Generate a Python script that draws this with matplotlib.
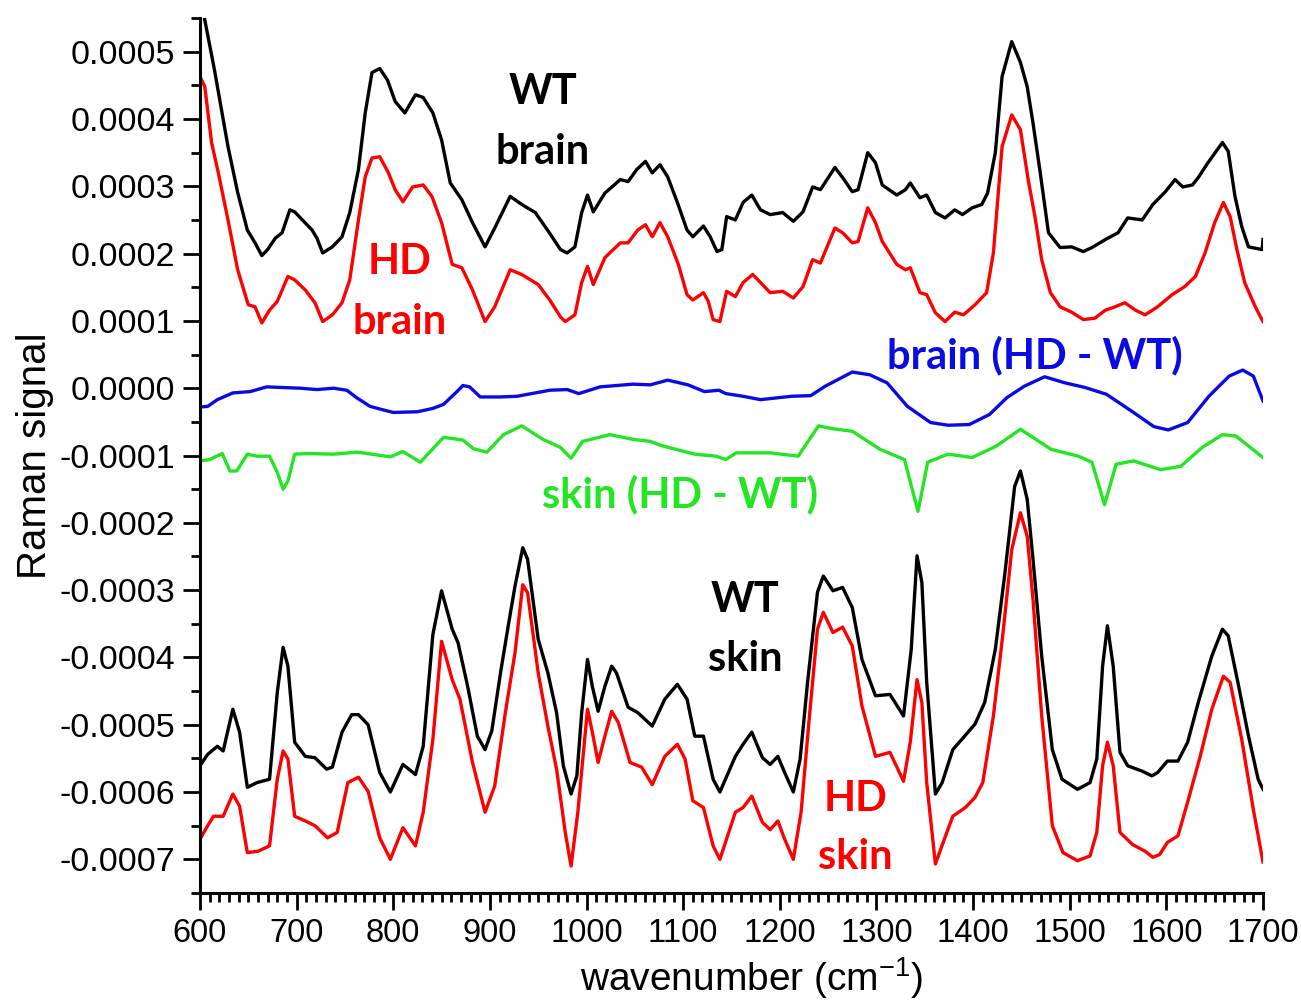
import numpy as np
import matplotlib
matplotlib.use('Agg')
import matplotlib.pyplot as plt
from matplotlib.ticker import MultipleLocator, FormatStrFormatter

# values, in units of 1e-4
SCALE = 1e-4

wt_brain_w = [600, 605, 615, 629, 639, 649, 657, 664, 670, 678,
              685, 693, 698, 706, 716, 721, 727, 737, 747, 755,
              764, 771, 778, 786, 794, 802, 812, 823, 831, 841,
              850, 859, 871, 882, 895, 905, 921, 933, 947, 962,
              973, 980, 988, 995, 1001, 1007, 1019, 1035, 1043, 1052,
              1061, 1068, 1076, 1084, 1094, 1104, 1110, 1121, 1128, 1135,
              1140, 1145, 1154, 1162, 1171, 1180, 1190, 1203, 1214, 1224,
              1234, 1242, 1257, 1265, 1275, 1281, 1291, 1299, 1306, 1321,
              1330, 1335, 1345, 1352, 1361, 1371, 1381, 1389, 1399, 1409,
              1415, 1423, 1430, 1440, 1449, 1456, 1462, 1469, 1478, 1490,
              1502, 1514, 1523, 1537, 1550, 1560, 1575, 1586, 1599, 1609,
              1617, 1627, 1633, 1643, 1658, 1664, 1671, 1678, 1685, 1699, 1700]
wt_brain = [5.85, 5.47, 4.73, 3.59, 2.91, 2.35, 2.16, 1.97, 2.06, 2.23,
            2.31, 2.65, 2.62, 2.50, 2.35, 2.23, 2.01, 2.10, 2.25, 2.61,
            3.25, 4.09, 4.69, 4.75, 4.58, 4.26, 4.09, 4.36, 4.32, 4.09,
            3.69, 3.05, 2.80, 2.46, 2.10, 2.38, 2.85, 2.73, 2.61, 2.30,
            2.06, 2.01, 2.10, 2.61, 2.87, 2.62, 2.90, 3.10, 3.07, 3.25,
            3.37, 3.20, 3.32, 3.14, 2.76, 2.35, 2.25, 2.41, 2.25, 2.03,
            2.06, 2.55, 2.50, 2.76, 2.87, 2.65, 2.58, 2.61, 2.48, 2.62,
            2.99, 2.95, 3.28, 3.13, 2.92, 2.95, 3.50, 3.35, 3.02, 2.87,
            2.95, 3.05, 2.83, 2.87, 2.61, 2.53, 2.65, 2.58, 2.68, 2.73,
            2.90, 3.50, 4.63, 5.15, 4.84, 4.48, 3.94, 3.25, 2.31, 2.09,
            2.10, 2.03, 2.09, 2.21, 2.31, 2.53, 2.50, 2.73, 2.92, 3.10,
            2.99, 3.02, 3.13, 3.35, 3.65, 3.52, 2.85, 2.40, 2.10, 2.06, 2.21]

hd_brain_w = [600, 605, 612, 619, 629, 639, 650, 657, 664, 672,
              680, 691, 698, 709, 719, 727, 737, 747, 755, 764,
              771, 778, 786, 795, 802, 810, 820, 831, 840, 850,
              861, 871, 882, 895, 905, 921, 933, 950, 962, 973,
              978, 988, 995, 1001, 1007, 1019, 1035, 1043, 1053, 1061,
              1068, 1076, 1084, 1095, 1104, 1110, 1121, 1126, 1131, 1138,
              1145, 1154, 1162, 1172, 1182, 1190, 1203, 1214, 1224, 1234,
              1242, 1257, 1265, 1275, 1281, 1291, 1299, 1306, 1321, 1330,
              1335, 1345, 1352, 1361, 1371, 1381, 1390, 1402, 1414, 1421,
              1430, 1440, 1449, 1457, 1464, 1471, 1480, 1490, 1502, 1514,
              1526, 1537, 1547, 1557, 1568, 1578, 1591, 1606, 1619, 1630,
              1640, 1650, 1659, 1666, 1673, 1681, 1692, 1700]
hd_brain = [4.63, 4.48, 3.65, 3.20, 2.50, 1.76, 1.24, 1.21, 0.97, 1.16,
            1.29, 1.66, 1.61, 1.46, 1.27, 0.99, 1.09, 1.27, 1.61, 2.50,
            3.14, 3.42, 3.44, 3.20, 2.95, 2.77, 2.99, 3.02, 2.85, 2.46,
            1.84, 1.79, 1.46, 0.99, 1.21, 1.76, 1.69, 1.54, 1.31, 1.06,
            0.99, 1.09, 1.57, 1.81, 1.54, 1.94, 2.16, 2.16, 2.35, 2.43,
            2.25, 2.46, 2.25, 1.84, 1.39, 1.31, 1.42, 1.29, 1.02, 0.99,
            1.44, 1.36, 1.57, 1.69, 1.54, 1.42, 1.44, 1.34, 1.51, 1.91,
            1.86, 2.38, 2.31, 2.16, 2.18, 2.68, 2.46, 2.18, 1.84, 1.76,
            1.79, 1.42, 1.39, 1.12, 0.99, 1.13, 1.09, 1.24, 1.42, 2.01,
            3.59, 4.06, 3.84, 3.10, 2.55, 1.91, 1.42, 1.21, 1.13, 1.02,
            1.04, 1.16, 1.21, 1.27, 1.16, 1.09, 1.21, 1.39, 1.51, 1.66,
            2.01, 2.46, 2.76, 2.55, 2.06, 1.57, 1.21, 0.99]

brain_diff_w = [600, 608, 618, 634, 652, 669, 686, 704, 721, 738,
                752, 762, 776, 789, 800, 825, 841, 852, 866, 872,
                879, 890, 910, 928, 962, 980, 992, 1014, 1048, 1066,
                1084, 1105, 1122, 1137, 1144, 1162, 1180, 1212, 1232, 1247,
                1275, 1293, 1311, 1332, 1356, 1374, 1396, 1417, 1435, 1453,
                1474, 1495, 1516, 1538, 1566, 1587, 1602, 1622, 1644, 1665,
                1679, 1690, 1700]
brain_diff = [-0.28, -0.27, -0.17, -0.07, -0.05, 0.02, 0.01, 0.00, -0.02, 0.00,
              -0.03, -0.14, -0.27, -0.32, -0.36, -0.35, -0.30, -0.24, -0.05, 0.04,
              0.02, -0.13, -0.13, -0.12, -0.03, -0.02, -0.08, 0.02, 0.06, 0.05,
              0.12, 0.05, -0.05, -0.03, -0.08, -0.12, -0.17, -0.12, -0.11, 0.03,
              0.24, 0.20, 0.08, -0.27, -0.51, -0.55, -0.54, -0.39, -0.14, 0.03,
              0.17, 0.08, 0.01, -0.09, -0.36, -0.57, -0.62, -0.51, -0.12, 0.18,
              0.27, 0.18, -0.19]

skin_diff_w = [600, 610, 623, 631, 638, 649, 659, 672, 680, 686,
               691, 698, 711, 738, 763, 797, 810, 828, 852, 872,
               883, 897, 914, 933, 955, 973, 984, 996, 1024, 1048,
               1066, 1077, 1112, 1134, 1144, 1155, 1190, 1219, 1240, 1254,
               1275, 1304, 1329, 1343, 1353, 1374, 1399, 1424, 1449, 1481,
               1509, 1523, 1536, 1548, 1566, 1594, 1615, 1637, 1658, 1672, 1700]
skin_diff = [-1.08, -1.06, -0.97, -1.23, -1.23, -0.98, -1.01, -1.01, -1.25, -1.50,
             -1.38, -0.98, -0.97, -0.98, -0.95, -1.02, -0.94, -1.10, -0.73, -0.77,
             -0.90, -0.95, -0.69, -0.56, -0.76, -0.88, -1.04, -0.79, -0.69, -0.76,
             -0.79, -0.85, -0.98, -1.01, -1.06, -0.96, -0.96, -1.01, -0.56, -0.60,
             -0.64, -0.91, -1.06, -1.83, -1.10, -0.98, -1.03, -0.86, -0.61, -0.91,
             -1.01, -1.10, -1.73, -1.13, -1.08, -1.21, -1.16, -0.88, -0.69, -0.71, -1.03]

wt_skin_w = [600, 608, 618, 624, 634, 641, 649, 659, 672, 680,
             686, 691, 698, 709, 719, 731, 737, 747, 757, 764,
             774, 786, 797, 810, 823, 831, 841, 850, 861, 867,
             877, 887, 895, 902, 911, 919, 926, 934, 939, 950,
             960, 969, 976, 984, 990, 995, 1001, 1006, 1012, 1019,
             1026, 1031, 1043, 1053, 1068, 1081, 1094, 1104, 1112, 1121,
             1131, 1138, 1154, 1162, 1171, 1182, 1190, 1198, 1205, 1214,
             1221, 1229, 1239, 1245, 1255, 1265, 1275, 1285, 1299, 1314,
             1328, 1336, 1342, 1347, 1352, 1361, 1368, 1379, 1390, 1402,
             1412, 1423, 1433, 1443, 1449, 1456, 1462, 1471, 1482, 1492,
             1508, 1521, 1528, 1534, 1539, 1545, 1552, 1560, 1575, 1585,
             1591, 1601, 1612, 1622, 1633, 1647, 1658, 1664, 1674, 1685, 1695, 1700]
wt_skin = [-5.61, -5.44, -5.32, -5.39, -4.77, -5.11, -5.93, -5.86, -5.81, -4.52,
           -3.85, -4.13, -5.26, -5.47, -5.49, -5.66, -5.63, -5.11, -4.85, -4.85,
           -5.00, -5.71, -6.00, -5.59, -5.74, -5.32, -3.66, -3.01, -3.58, -3.78,
           -4.43, -5.17, -5.37, -5.09, -4.23, -3.53, -2.94, -2.37, -2.54, -3.73,
           -4.23, -4.82, -5.61, -6.03, -5.76, -4.82, -4.03, -4.43, -4.80, -4.43,
           -4.13, -4.23, -4.74, -4.82, -5.02, -4.62, -4.40, -4.62, -5.17, -5.17,
           -5.81, -6.00, -5.47, -5.29, -5.11, -5.49, -5.59, -5.47, -5.71, -6.00,
           -5.51, -4.33, -3.03, -2.79, -3.01, -2.96, -3.26, -4.03, -4.57, -4.55,
           -4.87, -3.88, -2.49, -2.89, -4.37, -6.03, -5.86, -5.37, -5.19, -4.99,
           -4.67, -3.88, -2.74, -1.46, -1.23, -1.65, -2.54, -3.98, -5.37, -5.81,
           -5.96, -5.86, -5.51, -4.13, -3.53, -4.13, -5.41, -5.61, -5.69, -5.76,
           -5.71, -5.54, -5.54, -5.26, -4.67, -3.98, -3.58, -3.68, -4.37, -5.17, -5.81, -5.96]

hd_skin_w = [600, 608, 614, 624, 634, 641, 649, 660, 672, 680,
             686, 691, 698, 709, 719, 732, 742, 753, 764, 774,
             786, 797, 810, 823, 831, 841, 850, 861, 869, 882,
             895, 905, 916, 926, 934, 939, 950, 960, 969, 978,
             984, 991, 1001, 1006, 1012, 1019, 1026, 1033, 1045, 1057,
             1068, 1081, 1094, 1102, 1110, 1121, 1131, 1138, 1154, 1162,
             1171, 1182, 1190, 1198, 1205, 1214, 1222, 1231, 1239, 1245,
             1255, 1265, 1275, 1285, 1299, 1314, 1328, 1335, 1342, 1347,
             1352, 1361, 1369, 1379, 1392, 1402, 1410, 1421, 1431, 1440,
             1449, 1456, 1462, 1471, 1482, 1493, 1508, 1521, 1528, 1534,
             1539, 1545, 1552, 1565, 1578, 1586, 1593, 1601, 1612, 1622,
             1635, 1647, 1659, 1666, 1678, 1690, 1700]
hd_skin = [-6.70, -6.50, -6.36, -6.36, -6.03, -6.21, -6.90, -6.88, -6.80, -5.81,
           -5.39, -5.51, -6.36, -6.43, -6.50, -6.68, -6.60, -5.86, -5.78, -5.99,
           -6.68, -7.00, -6.53, -6.80, -6.30, -5.22, -3.76, -4.33, -4.62, -5.56,
           -6.30, -5.91, -4.82, -3.93, -2.92, -3.04, -4.23, -5.02, -5.66, -6.60,
           -7.10, -6.30, -4.77, -5.11, -5.56, -5.17, -4.80, -4.97, -5.56, -5.63,
           -5.89, -5.47, -5.29, -5.51, -6.13, -6.23, -6.80, -7.00, -6.30, -6.23,
           -6.06, -6.45, -6.56, -6.43, -6.70, -7.00, -6.30, -4.82, -3.58, -3.33,
           -3.63, -3.55, -3.83, -4.72, -5.47, -5.41, -5.84, -5.26, -4.33, -4.67,
           -5.86, -7.07, -6.75, -6.36, -6.23, -6.08, -5.86, -4.87, -3.63, -2.40,
           -1.85, -2.20, -3.14, -4.87, -6.50, -6.90, -7.02, -6.95, -6.60, -5.61,
           -5.26, -5.61, -6.60, -6.78, -6.88, -6.97, -6.93, -6.75, -6.65, -6.15,
           -5.47, -4.77, -4.28, -4.37, -5.22, -6.26, -7.04]

RED = '#ff0000'
BLUE = '#0a0ae6'
GREEN = '#22e622'

plt.rcParams['font.family'] = ['Liberation Sans', 'DejaVu Sans']
plt.rcParams['mathtext.fontset'] = 'custom'
plt.rcParams['mathtext.rm'] = 'Liberation Sans'
plt.rcParams['mathtext.it'] = 'Liberation Sans'

fig = plt.figure(figsize=(13.01, 10.08), dpi=100)
ax = fig.add_axes([0.1537, 0.1141, 0.8171, 0.8680])

lw = 2.4
ax.plot(wt_brain_w, np.array(wt_brain) * SCALE, color='black', lw=lw)
ax.plot(hd_brain_w, np.array(hd_brain) * SCALE, color=RED, lw=lw)
ax.plot(brain_diff_w, np.array(brain_diff) * SCALE, color=BLUE, lw=lw)
ax.plot(skin_diff_w, np.array(skin_diff) * SCALE, color=GREEN, lw=lw)
ax.plot(wt_skin_w, np.array(wt_skin) * SCALE, color='black', lw=lw)
ax.plot(hd_skin_w, np.array(hd_skin) * SCALE, color=RED, lw=lw)

ax.set_xlim(600, 1700)
ax.set_ylim(-0.00075, 0.00055)

ax.spines['top'].set_visible(False)
ax.spines['right'].set_visible(False)
ax.spines['left'].set_linewidth(2.2)
ax.spines['bottom'].set_linewidth(2.2)

ax.xaxis.set_major_locator(MultipleLocator(100))
ax.xaxis.set_minor_locator(MultipleLocator(10))
ax.yaxis.set_major_locator(MultipleLocator(0.0001))
ax.yaxis.set_minor_locator(MultipleLocator(0.00005))
ax.yaxis.set_major_formatter(FormatStrFormatter('%.4f'))
ax.tick_params(which='major', direction='out', length=12, width=2, labelsize=23.5, pad=6)
ax.tick_params(axis='y', which='major', labelsize=24.5)
ax.tick_params(which='minor', direction='out', length=6.5, width=2)

ax.set_xlabel('wavenumber (cm$^{-1}$)', fontsize=28)
ax.xaxis.set_label_coords(0.519, -0.071)
ax.set_ylabel('Raman signal', fontsize=29, labelpad=4)

lab = dict(fontfamily=['Lato', 'DejaVu Sans'], fontweight='bold', fontsize=30,
           ha='center', va='center')
ax.text(955, 0.000440, 'WT', color='black', **lab)
ax.text(955, 0.000351, 'brain', color='black', **lab)
ax.text(807, 0.000187, 'HD', color=RED, **lab)
ax.text(807, 0.000099, 'brain', color=RED, **lab)
ax.text(1464, 0.000048, 'brain (HD - WT)', color=BLUE, **lab)
ax.text(1097, -0.000158, 'skin (HD - WT)', color=GREEN, **lab)
ax.text(1164, -0.000314, 'WT', color='black', **lab)
ax.text(1164, -0.000403, 'skin', color='black', **lab)
ax.text(1278, -0.000611, 'HD', color=RED, **lab)
ax.text(1278, -0.000697, 'skin', color=RED, **lab)

fig.savefig('out.png', dpi=100)
